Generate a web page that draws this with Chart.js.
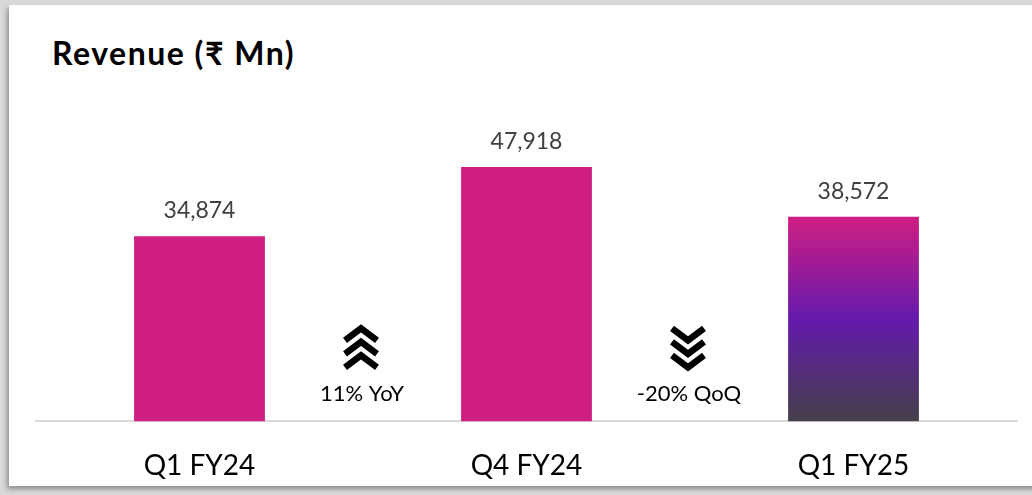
<!DOCTYPE html>
<html>
<head>
<meta charset="utf-8">
<script src="https://cdn.jsdelivr.net/npm/chart.js@4/dist/chart.umd.min.js"></script>
<style>
  html, body { margin: 0; padding: 0; width: 1032px; height: 495px; overflow: hidden; background: #d9d9d9; }
  .box { position: absolute; left: 9px; top: 5px; width: 1030px; height: 481px; background: #fff;
         box-shadow: -2px 3px 5px rgba(0,0,0,0.35); }
  .title { position: absolute; left: 52px; top: 33px; font: bold 32px Lato, "Noto Sans", sans-serif;
           letter-spacing: 1.5px; color: #000; }
  canvas { position: absolute; left: 0; top: 0; }
</style>
</head>
<body>
<div class="box"></div>
<div class="title">Revenue (₹ Mn)</div>
<canvas id="chart" width="1032" height="495"></canvas>
<script>
const categories = ["Q1 FY24", "Q4 FY24", "Q1 FY25"];
const revenue = [34874, 47918, 38572];
const changeLabels = ["11% YoY", "-20% QoQ"];
const changeDirections = ["up", "down"];

const FONT = 'Lato, "Noto Sans", sans-serif';
const PINK = "#cf1f83";

// gradient for the latest quarter bar (pink -> purple -> dark grey)
function barColor(ctx) {
  if (ctx.dataIndex !== 2) return PINK;
  const chart = ctx.chart;
  if (!chart.chartArea) return PINK;
  const y = chart.scales.y;
  const top = y.getPixelForValue(revenue[2]);
  const bottom = y.getPixelForValue(0);
  const g = chart.ctx.createLinearGradient(0, top, 0, bottom);
  g.addColorStop(0, "#d01e82");
  g.addColorStop(0.5, "#641aac");
  g.addColorStop(1, "#45404a");
  return g;
}

// value labels above each bar
const valueLabels = {
  id: "valueLabels",
  afterDatasetsDraw(chart) {
    const ctx = chart.ctx;
    const meta = chart.getDatasetMeta(0);
    ctx.save();
    ctx.font = "23px " + FONT;
    ctx.fillStyle = "#404040";
    ctx.textAlign = "center";
    ctx.textBaseline = "alphabetic";
    meta.data.forEach((bar, i) => {
      ctx.fillText(revenue[i].toLocaleString("en-US"), bar.x, bar.y - 18);
    });
    ctx.restore();
  }
};

// triple chevrons + change text between bars
const changeMarks = {
  id: "changeMarks",
  afterDatasetsDraw(chart) {
    const ctx = chart.ctx;
    const x = chart.scales.x;
    const base = chart.scales.y.getPixelForValue(0);
    ctx.save();
    changeLabels.forEach((label, i) => {
      const cx = x.getPixelForValue(i + 0.5) - 2;
      const up = changeDirections[i] === "up";
      ctx.strokeStyle = "#000";
      ctx.lineWidth = 6.5;
      ctx.lineJoin = "miter";
      for (let k = 0; k < 3; k++) {
        const yTop = base - 96 + k * 13.5;
        ctx.beginPath();
        if (up) {
          ctx.moveTo(cx - 16, yTop + 15);
          ctx.lineTo(cx, yTop + 3);
          ctx.lineTo(cx + 16, yTop + 15);
        } else {
          ctx.moveTo(cx - 16, yTop + 3);
          ctx.lineTo(cx, yTop + 15);
          ctx.lineTo(cx + 16, yTop + 3);
        }
        ctx.stroke();
      }
      ctx.font = "22px " + FONT;
      ctx.fillStyle = "#000";
      ctx.textAlign = "center";
      ctx.textBaseline = "middle";
      ctx.fillText(label, cx + 1, base - 27);
    });
    ctx.restore();
  }
};

new Chart(document.getElementById("chart"), {
  type: "bar",
  data: {
    labels: categories,
    datasets: [{
      data: revenue,
      backgroundColor: barColor,
      barPercentage: 0.8,
      categoryPercentage: 0.5
    }]
  },
  options: {
    responsive: false,
    devicePixelRatio: 1,
    animation: false,
    layout: { padding: { left: 36, right: 15, top: 103, bottom: -16 } },
    plugins: { legend: { display: false }, tooltip: { enabled: false } },
    scales: {
      x: {
        grid: { display: false, drawTicks: false },
        border: { display: true, color: "#d9d9d9", width: 2 },
        ticks: { color: "#000", padding: 28, font: { family: FONT, size: 28 } }
      },
      y: { display: false, min: 0, max: 60000 }
    }
  },
  plugins: [valueLabels, changeMarks]
});
</script>
</body>
</html>
